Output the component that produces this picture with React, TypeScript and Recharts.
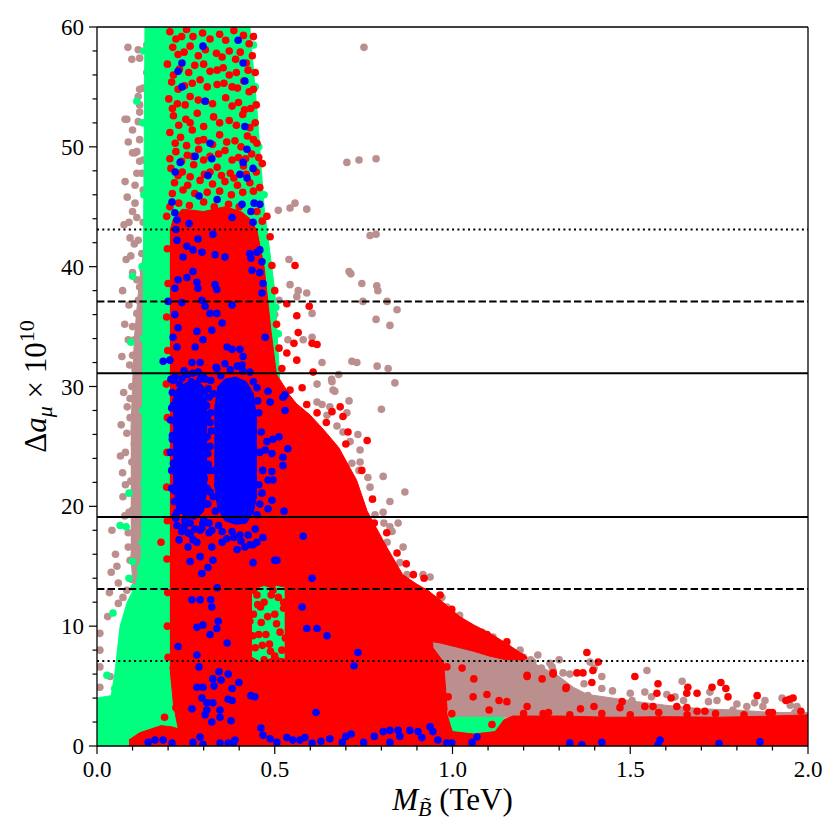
import { ComposedChart, Scatter, Area, XAxis, YAxis, ReferenceLine } from 'recharts';

const BROWN = '#bc8f8f';
const GREEN = '#00ff7f';
const RED = '#ff0000';
const BLUE = '#0000ff';
const FONT = '"Liberation Serif", "DejaVu Serif", serif';

const xTicks = [0, 0.1, 0.2, 0.3, 0.4, 0.5, 0.6, 0.7, 0.8, 0.9, 1, 1.1, 1.2, 1.3, 1.4, 1.5, 1.6, 1.7, 1.8, 1.9, 2];
const xMajor = [0, 0.5, 1, 1.5, 2];
const yTicks = [0, 2, 4, 6, 8, 10, 12, 14, 16, 18, 20, 22, 24, 26, 28, 30, 32, 34, 36, 38, 40, 42, 44, 46, 48, 50, 52, 54, 56, 58, 60];
const yMajor = [0, 10, 20, 30, 40, 50, 60];

// Delta a_mu bands: 1, 2, 3 sigma
const solidLevels = [19.1, 31.1];
const dashedLevels = [13.1, 37.1];
const dottedLevels = [7.1, 43.1];

// dense regions: [x, low, high]
const brownLeftFill = [[0.095, 16, 26], [0.105, 12, 34], [0.12, 9, 39], [0.13, 7, 41], [0.14, 7, 42]];
const brownRightFill = [
  [0.93, 7.5, 9.4], [0.96, 5, 9.0], [0.985, 2.3, 8.7], [1.0, 2.3, 8.6], [1.05, 2.3, 8.2], [1.1, 2.3, 7.9],
  [1.15, 2.4, 7.6], [1.2, 2.4, 7.3], [1.25, 2.4, 6.6], [1.3, 2.4, 5.8], [1.34, 2.4, 4.9], [1.38, 2.4, 4.3],
  [1.45, 2.4, 4.0], [1.52, 2.4, 3.7], [1.6, 2.4, 3.4], [1.7, 2.4, 3.1], [1.8, 2.4, 3.0], [1.9, 2.5, 2.8], [2.0, 2.5, 2.8],
];
const greenFill = [
  [0, 0, 4.0], [0.04, 0, 4.2], [0.05, 0, 6.0], [0.065, 0, 10], [0.085, 0, 12], [0.11, 0, 13.5], [0.125, 0, 16],
  [0.135, 0, 60], [0.43, 0, 60], [0.45, 0, 53], [0.47, 0, 45], [0.5, 0, 38], [0.515, 0, 30], [0.535, 0, 14], [0.545, 0, 0],
];
const greenPatch = [[0.99, 1.0, 2.3], [1.0, 0.9, 2.4], [1.14, 0.9, 2.4], [1.15, 1.0, 2.2]];
const redBottomLeft = [[0.09, 0, 0.5], [0.12, 0, 1.1], [0.15, 0, 1.4], [0.18, 0, 1.7], [0.21, 0, 1.6], [0.245, 0, 1.3]];
const redBand = [
  [0.205, 6.6, 43], [0.215, 3.5, 44], [0.23, 1.2, 44.5], [0.24, 0, 44.8], [0.3, 0, 44.6], [0.36, 0, 45], [0.405, 0, 44.6],
  [0.43, 0, 44], [0.436, 0, 43.7],
];
const redUpper = [[0.43, 13, 44], [0.45, 13.2, 43], [0.47, 13.4, 40], [0.49, 13.2, 34.5], [0.505, 13.4, 31], [0.54, 13.2, 29.4]];
const redLower = [[0.43, 0, 7.5], [0.46, 0, 7.0], [0.5, 0, 7.4], [0.54, 0, 7.2]];
const redFan = [
  [0.528, 0, 29.8], [0.56, 0, 28.6], [0.6, 0, 27.6], [0.64, 0, 26.3], [0.68, 0, 24.9], [0.73, 0, 22.2], [0.76, 0, 19.6],
  [0.815, 0, 16.6], [0.86, 0, 14.3], [0.9, 0, 13.5], [0.935, 0, 12.9], [0.945, 0, 8.2], [0.975, 0, 7.0], [0.985, 0, 3.0],
];
const redLip = [[0.925, 8.8, 13.1], [0.965, 8.6, 12.2], [1.02, 8.2, 10.8], [1.06, 7.9, 10.1], [1.105, 7.5, 9.4], [1.15, 7.2, 8.6], [1.19, 7.2, 7.8], [1.21, 7.3, 7.4]];
const redStrip = [
  [0.975, 0, 3.0], [0.985, 0, 2.6], [0.995, 0, 1.6], [1.0, 0, 1.2], [1.06, 0, 1.0], [1.12, 0, 1.2], [1.145, 0, 2.2], [1.17, 0, 2.5],
  [1.3, 0, 2.5], [1.45, 0, 2.4], [1.6, 0, 2.45], [1.75, 0, 2.4], [1.9, 0, 2.5], [2.0, 0, 2.6],
];
const blueCore = [[0.33, 22, 28], [0.34, 19.8, 30], [0.36, 18.8, 30.6], [0.39, 18.5, 30.8], [0.42, 18.6, 30.4], [0.44, 19.5, 29.4], [0.45, 21, 27]];
const blueLeft = [[0.214, 22, 28], [0.225, 19.8, 29.8], [0.25, 19, 30.3], [0.28, 19, 30.5], [0.3, 19.6, 30], [0.31, 21.5, 28.5]];

// single points: [x, y]
const brownDots = [
  [0.087, 58.3], [0.116, 58.1], [0.098, 57.3], [0.12, 57.4], [0.14, 58.5], [0.13, 54.9], [0.116, 54.2], [0.12, 53.5], [0.12, 52.9],
  [0.079, 52.3], [0.1, 51.4], [0.088, 50.4], [0.112, 49.6], [0.1, 49.5], [0.12, 48.8], [0.079, 47.1], [0.126, 47.8], [0.14, 56.2],
  [0.12, 54.8], [0.084, 52.3], [0.116, 52.1], [0.12, 50.6], [0.107, 49.5], [0.13, 48.9], [0.112, 47.8], [0.107, 46.8], [0.13, 46.4],
  [0.107, 45.3], [0.1, 44.6], [0.13, 43.7], [0.093, 42.4], [0.116, 42.2], [0.126, 41.1], [0.13, 39.7], [0.1, 39.5], [0.112, 38.9],
  [0.12, 38.3], [0.116, 37.2], [0.112, 36.1], [0.13, 35.6], [0.1, 35], [0.12, 34.5], [0.088, 33.9], [0.116, 33.3], [0.1, 32.6],
  [0.12, 32.2], [0.107, 31.4], [0.12, 30.8], [0.098, 30], [0.12, 29.7], [0.093, 29], [0.116, 28.6],
  [0.093, 27.4], [0.084, 26.1], [0.12, 26.2], [0.112, 24.7], [0.098, 23.7], [0.12, 23.3], [0.112, 22.5], [0.12, 21.6], [0.073, 20.8],
  [0.112, 20.5], [0.1, 19.7], [0.042, 18], [0.088, 17.8], [0.116, 17.9], [0.088, 16.6], [0.112, 16.1], [0.093, 15.5], [0.116, 14.7],
  [0.098, 13.9], [0.084, 13], [0.12, 12.8], [0.073, 12.4], [0.008, 9.4], [0.008, 8], [0.008, 6.6], [0.008, 4.9], [0.06, 11.9],
  [0.093, 11.4], [0.084, 9.9], [0.1, 8.6], [0.079, 7.4], [0.1, 5.3], [0.037, 5.8], [0.04, 14.5], [0.052, 16.0], [0.035, 12.8],
  [0.056, 15.0], [0.03, 10.8], [0.06, 13.6], [0.078, 19.2], [0.072, 22.8], [0.08, 24.5],
  [0.068, 26.8], [0.075, 29.5], [0.07, 32.5], [0.078, 35.2], [0.072, 38.0], [0.082, 40.6], [0.076, 43.5], [0.085, 45.8],
  [0.066, 24.2], [0.08, 21.8], [0.09, 36.8], [0.092, 31.8], [0.085, 28.3], [0.09, 19.5], [0.095, 22.1], [0.105, 25.2],
  [0.108, 27.9], [0.105, 33.9], [0.09, 43.7], [0.095, 40.9], [0.112, 44.1], [0.105, 41.9],
  [0.703, 48.7], [0.737, 48.9], [0.785, 49], [0.751, 58.3], [0.51, 44.7], [0.543, 44.9], [0.557, 45.3], [0.59, 44.8], [0.768, 42.6],
  [0.785, 42.7], [0.54, 40.6], [0.709, 39.6], [0.714, 39.4], [0.543, 38.5], [0.566, 38], [0.59, 37.8], [0.745, 38.6], [0.787, 38.4],
  [0.79, 38], [0.512, 37.2], [0.562, 37.5], [0.605, 36.1], [0.748, 37.1], [0.816, 37.1], [0.844, 36.4], [0.785, 35.6], [0.824, 35.1],
  [0.5, 36], [0.537, 33.9], [0.58, 33.9], [0.605, 34.1], [0.633, 32], [0.717, 32.1], [0.731, 32], [0.788, 31.7], [0.819, 31.5],
  [0.838, 30.3], [0.68, 31], [0.66, 30.6], [0.664, 29.7], [0.709, 28.8], [0.8, 28.1], [0.619, 28.7], [0.633, 28.5], [0.655, 28.3],
  [0.647, 27.6], [0.675, 26.7], [0.692, 26.2], [0.712, 25.4], [0.734, 26], [0.74, 24.7], [0.768, 21.6], [0.805, 19.5], [0.824, 18.3],
  [0.866, 21.2], [0.824, 20.4], [0.847, 18.6], [0.861, 16.6], [0.805, 22.5], [0.762, 22.4], [0.737, 23], [0.717, 23.6],
  [0.619, 30.2], [0.661, 30.4], [0.669, 29.6], [0.703, 27.8], [0.74, 23.7], [0.782, 19.3], [0.807, 18.6], [0.83, 17.9], [0.816, 17],
  [0.852, 15.3], [0.872, 14.3], [0.917, 14.3], [0.937, 14.1], [0.97, 12.4], [0.984, 11.6], [1.02, 10.9], [1.05, 9.9], [1.083, 9.5],
  [1.114, 9.1], [1.153, 8.2], [1.17, 7.8], [1.2, 7.4], [1.226, 7], [1.25, 6.5], [1.283, 6.3], [1.31, 4.8], [1.34, 4.5], [1.274, 6.9],
  [1.36, 3.6], [1.19, 8.0], [1.24, 7.6], [1.3, 7.2], [0.9, 8.6], [0.915, 7.6],
  [1.22, 7.2], [1.28, 6.6], [1.33, 6.0], [1.37, 5.2], [1.45, 4.6], [1.5, 4.4], [1.56, 4.1], [1.65, 3.8], [1.72, 3.7], [1.8, 3.5],
  [1.85, 3.6], [1.95, 3.4],
  [1.547, 6.3], [1.541, 4.5], [1.646, 5.4], [1.724, 4.5], [1.744, 3.8], [1.828, 3.3], [1.879, 3.8], [1.873, 3.3], [1.927, 4],
  [1.969, 3.3], [1.42, 5.8], [1.42, 4.8], [1.311, 6.1], [1.381, 4.2], [1.443, 3.6], [1.505, 3.8], [1.603, 4.3], [1.626, 4.1],
  [1.789, 3.0], [1.963, 2.8], [1.519, 2.8], [1.387, 7.0], [1.398, 6.5],
];

const greenDots = [
  [0.112, 53.8], [0.1, 39.2], [0.095, 33.7], [0.09, 21.1], [0.082, 18.3], [0.1, 15.4], [0.09, 14], [0.045, 11.1], [0.073, 9.4],
  [0.079, 7.8], [0.028, 5.9], [0.05, 4.8], [0.065, 18.4], [0.51, 34.4], [0.497, 33], [0.503, 36.6], [0.485, 39], [0.47, 46],
  [0.455, 50], [0.445, 55], [0.44, 58.5], [0.131, 58], [0.128, 52], [0.132, 46], [0.127, 40], [0.131, 34], [0.129, 28],
  [0.133, 22], [0.128, 17], [0.122, 14.8], [0.104, 13.2], [0.478, 32.6],
];

const redDots = [
  [0.205, 59.6], [0.238, 59.2], [0.252, 59.8], [0.297, 59.5], [0.318, 59.0], [0.385, 59.7], [0.412, 59.3], [0.428, 58.6],
  [0.213, 58.3], [0.228, 57.7], [0.262, 58.4], [0.305, 58.1], [0.336, 57.8], [0.372, 58.0], [0.403, 57.9], [0.437, 57.6],
  [0.198, 56.9], [0.232, 56.5], [0.275, 56.8], [0.318, 56.3], [0.355, 56.6], [0.392, 56.2], [0.425, 56.4],
  [0.21, 55.4], [0.246, 55.1], [0.29, 55.6], [0.338, 55.2], [0.38, 55.0], [0.413, 55.5], [0.44, 54.8],
  [0.202, 54.0], [0.226, 53.6], [0.262, 54.2], [0.305, 53.8], [0.362, 54.1], [0.398, 53.7], [0.432, 53.2],
  [0.215, 52.6], [0.25, 52.3], [0.282, 52.8], [0.328, 52.5], [0.372, 52.2], [0.41, 52.7], [0.445, 52.0],
  [0.205, 51.2], [0.235, 50.8], [0.268, 51.4], [0.3, 50.6], [0.345, 51.0], [0.388, 50.5], [0.423, 50.9], [0.45, 50.3],
  [0.222, 49.6], [0.254, 49.3], [0.286, 49.8], [0.318, 49.2], [0.36, 49.7], [0.398, 49.1], [0.435, 49.4],
  [0.208, 48.2], [0.24, 47.9], [0.272, 48.5], [0.302, 47.7], [0.338, 48.3], [0.375, 47.8], [0.412, 48.4], [0.448, 47.9], [0.465, 48.6],
  [0.218, 47.0], [0.255, 46.8], [0.29, 47.2], [0.325, 46.9], [0.36, 47.1], [0.395, 46.8], [0.43, 47.0], [0.458, 46.6],
  [0.222, 59.0], [0.27, 59.2], [0.345, 59.4], [0.362, 58.9], [0.44, 59.2],
  [0.245, 57.9], [0.285, 57.6], [0.352, 57.5], [0.39, 57.3], [0.42, 57.0],
  [0.215, 56.0], [0.258, 56.2], [0.3, 56.9], [0.338, 56.4], [0.372, 56.0], [0.445, 56.2],
  [0.228, 54.8], [0.268, 55.3], [0.31, 55.0], [0.357, 55.3], [0.395, 54.9], [0.428, 54.6],
  [0.212, 53.2], [0.248, 53.5], [0.285, 53.9], [0.325, 53.6], [0.38, 53.4], [0.415, 53.1], [0.448, 53.5],
  [0.23, 51.8], [0.262, 52.0], [0.3, 51.7], [0.345, 52.0], [0.392, 51.8], [0.43, 51.6],
  [0.22, 50.3], [0.252, 50.1], [0.285, 50.5], [0.325, 50.2], [0.365, 50.4], [0.405, 50.0], [0.44, 50.6],
  [0.205, 49.0], [0.238, 48.8], [0.27, 49.2], [0.3, 48.9], [0.342, 49.4], [0.38, 48.9], [0.418, 49.0], [0.455, 49.1],
  [0.228, 47.6], [0.262, 47.5], [0.318, 47.9], [0.35, 47.6], [0.385, 47.4], [0.42, 47.7], [0.44, 46.3],
  [0.212, 46.1], [0.242, 46.4], [0.275, 46.1], [0.31, 46.2], [0.345, 46.3], [0.378, 46.0], [0.41, 46.2],
  [0.205, 45.0], [0.23, 45.3], [0.26, 45.1], [0.3, 45.4], [0.33, 45.0], [0.37, 45.2], [0.4, 45.0], [0.45, 44.6], [0.465, 43.8],
  [0.196, 44.2], [0.198, 41.5], [0.2, 38.6], [0.196, 35.8], [0.199, 33], [0.195, 30.2], [0.198, 27.4], [0.197, 24.5], [0.196, 21.6],
  [0.198, 18.8], [0.18, 17.0], [0.197, 15.6], [0.199, 12.8], [0.198, 10.0], [0.2, 7.4], [0.222, 3.2], [0.19, 2.4],
  [0.478, 44.2], [0.487, 42.5], [0.492, 40.1], [0.5, 38.0], [0.505, 35.2], [0.512, 33.2], [0.52, 31.5],
  [0.557, 40.1], [0.534, 36.9], [0.597, 36.7], [0.562, 35.9], [0.566, 34.5], [0.554, 33.6], [0.534, 32.8], [0.605, 33.6],
  [0.619, 33.5], [0.562, 32.2], [0.608, 31.2], [0.543, 29.7], [0.577, 29.9], [0.59, 28.5], [0.619, 27.8], [0.661, 27.9],
  [0.684, 28.3], [0.692, 27.5], [0.706, 26.2], [0.76, 25.5], [0.726, 21.6], [0.78, 18.6], [0.844, 16.1], [0.89, 14.3],
  [0.965, 12.6], [0.998, 11.4], [1.097, 9.3], [1.153, 8.7], [1.195, 7.4], [1.21, 5.9], [1.283, 6.1],
  [0.645, 27.0], [0.7, 25.2], [0.745, 23.0], [0.775, 20.6], [0.815, 17.8], [0.87, 15.2], [0.92, 14.0],
  [0.909, 6.9], [0.984, 6.6], [0.962, 5.5], [0.988, 4.1], [0.998, 2.7], [1.058, 4.1], [1.097, 4.3], [1.103, 3.0], [1.131, 3.8],
  [1.153, 3.7], [1.21, 5.8], [1.252, 5.6], [1.283, 6.0], [1.32, 4.9], [1.21, 3.3], [1.255, 2.7], [1.35, 6.1], [1.111, 1.8],
  [1.027, 6.5], [1.06, 5.6], [0.94, 4.5], [0.95, 3.3],
  [1.378, 7.8], [1.41, 7.0], [1.367, 6.1], [1.395, 6.3], [1.392, 5.3], [1.319, 4.8], [1.398, 3.3], [1.36, 3.1], [1.513, 5.8],
  [1.578, 5.2], [1.575, 4.4], [1.662, 4.9], [1.659, 4.4], [1.688, 4.4], [1.73, 4.9], [1.755, 5.3], [1.769, 4.8], [1.775, 4.1],
  [1.615, 4.0], [1.477, 3.7], [1.471, 3.2], [1.541, 3.3], [1.564, 3.3], [1.631, 3.3], [1.659, 3.2], [1.688, 2.9], [1.71, 2.9],
  [1.857, 4.2], [1.89, 2.8], [1.938, 3.8], [1.958, 4.0], [1.948, 3.9],
  [1.2, 2.7], [1.27, 2.8], [1.33, 2.6], [1.42, 2.7], [1.5, 2.6], [1.58, 2.8], [1.66, 2.6], [1.74, 2.7], [1.82, 2.6], [1.9, 2.8], [1.98, 2.9],
  [0.415, 12.2], [0.43, 10.4], [0.445, 8.2], [0.46, 11.6], [0.475, 9.3], [0.49, 12.6], [0.505, 10.2], [0.52, 8.0], [0.44, 13.0],
  [0.415, 8.8], [0.47, 7.2], [0.525, 12.0], [0.5, 7.5],
  [0.44, 11], [0.455, 9.3], [0.47, 12], [0.485, 8.5], [0.5, 11], [0.515, 9.5], [0.45, 12.6], [0.495, 13], [0.525, 11.5], [0.462, 10.3],
  [0.438, 9.2], [0.452, 11.8], [0.48, 10.8], [0.51, 12.4], [0.53, 9.0], [0.488, 7.9], [0.465, 8.4],
];

const blueDots = [
  [0.397, 58.9], [0.298, 58.4], [0.239, 57], [0.228, 56.3], [0.411, 57], [0.416, 55.5], [0.239, 55], [0.304, 53.8], [0.416, 51.7],
  [0.318, 50.3], [0.422, 49.8], [0.276, 49.2], [0.323, 49], [0.234, 48.7], [0.411, 48.7], [0.22, 47.9], [0.312, 47.6], [0.402, 47.7],
  [0.422, 47.4], [0.439, 48.2], [0.287, 45.9], [0.338, 45.6], [0.38, 44.1], [0.408, 45.2], [0.442, 45.3], [0.433, 44.6], [0.458, 45.2],
  [0.439, 43.7], [0.211, 45.4], [0.219, 44.5], [0.225, 43.9], [0.259, 43.6], [0.222, 43.1], [0.326, 42.7], [0.225, 42.2], [0.284, 42.3],
  [0.253, 41.7], [0.27, 41.4], [0.332, 41], [0.36, 40.8], [0.433, 40.7], [0.458, 41.4], [0.464, 40.4], [0.242, 40.8], [0.295, 41.2],
  [0.43, 41.1], [0.45, 41.2], [0.436, 39.7], [0.458, 39.5], [0.27, 39.6], [0.253, 39.1], [0.228, 38.9], [0.281, 38.7], [0.332, 38.5],
  [0.219, 38.2], [0.284, 38.2], [0.337, 38.1], [0.467, 38.6], [0.464, 37.8], [0.2, 37.1], [0.239, 37], [0.295, 37.2], [0.304, 36.7],
  [0.318, 36.1], [0.219, 36], [0.337, 36.1], [0.352, 35.3], [0.228, 34.9], [0.281, 34.6], [0.323, 34.7], [0.38, 36.8], [0.473, 34.1],
  [0.214, 34.1], [0.298, 33.9], [0.225, 33.3], [0.276, 33.3], [0.366, 33.3], [0.38, 33.1], [0.402, 33.1], [0.411, 32.5], [0.408, 31.8],
  [0.205, 32.2], [0.186, 32.1], [0.267, 32], [0.29, 32], [0.337, 31.5],
  [0.45, 29.9], [0.481, 29.6], [0.529, 29.3], [0.487, 28.7], [0.523, 29.1], [0.529, 28], [0.478, 25.4], [0.495, 25.6], [0.512, 25.8],
  [0.473, 24.7], [0.492, 24.4], [0.537, 24.8], [0.523, 24.1], [0.523, 23.4], [0.492, 22.9], [0.481, 22.2], [0.495, 22.2], [0.464, 21.1],
  [0.492, 20.5], [0.481, 19.8], [0.526, 19.6], [0.58, 17.5], [0.506, 15.5], [0.605, 14], [0.577, 11.6], [0.59, 9.8], [0.619, 9.8],
  [0.647, 9.2], [0.734, 7.8], [0.723, 6.7],
  [0.32, 30.5], [0.335, 31.6], [0.36, 31.9], [0.395, 31.7], [0.43, 31.2], [0.452, 28.8], [0.462, 26.2], [0.466, 23], [0.458, 20.2],
  [0.445, 18.1], [0.405, 17.1], [0.365, 17.3], [0.342, 18.4], [0.327, 20.8], [0.318, 25], [0.32, 27.8],
  [0.328, 29.4], [0.348, 30.9], [0.375, 31.4], [0.41, 31.3], [0.44, 30.4], [0.455, 27.8], [0.458, 24.5], [0.455, 21.8], [0.45, 19.3],
  [0.425, 17.6], [0.385, 17.4], [0.352, 17.9], [0.333, 19.6], [0.325, 23], [0.322, 26.3],
  [0.212, 29.5], [0.22, 30.8], [0.245, 31.3], [0.27, 31.1], [0.298, 30.9], [0.313, 29.8], [0.318, 27], [0.316, 23], [0.312, 20.2],
  [0.3, 18.6], [0.275, 18.1], [0.245, 18.3], [0.22, 19.2], [0.21, 21.5], [0.206, 24.5], [0.207, 27.2],
  [0.215, 30.5], [0.24, 30.7], [0.265, 30.4], [0.29, 30.6],
  [0.225, 29.3], [0.25, 29.5], [0.277, 29.2], [0.301, 29.4], [0.315, 29.1],
  [0.21, 28.2], [0.235, 28.0], [0.262, 28.3], [0.287, 28.1], [0.308, 28.4],
  [0.222, 27.0], [0.248, 26.8], [0.272, 27.2], [0.298, 26.9],
  [0.212, 25.9], [0.237, 26.1], [0.26, 25.7], [0.284, 26.0], [0.31, 25.8],
  [0.226, 24.7], [0.25, 24.5], [0.275, 24.9], [0.3, 24.6],
  [0.215, 23.6], [0.24, 23.8], [0.265, 23.4], [0.29, 23.7], [0.313, 23.5],
  [0.228, 22.4], [0.253, 22.2], [0.278, 22.6], [0.302, 22.3],
  [0.218, 21.3], [0.243, 21.5], [0.268, 21.1], [0.293, 21.4], [0.318, 21.2],
  [0.232, 20.1], [0.257, 20.3], [0.282, 19.9], [0.306, 20.2],
  [0.222, 19.0], [0.247, 18.8], [0.272, 19.2], [0.3, 18.9],
  [0.238, 17.9], [0.262, 17.7], [0.29, 18.0], [0.315, 17.8],
  [0.208, 30.6], [0.215, 28.4], [0.212, 25.6], [0.21, 23], [0.218, 20.4], [0.225, 18.4], [0.231, 17.2], [0.256, 16.6], [0.281, 17],
  [0.262, 18.6], [0.295, 18.2], [0.315, 18.6], [0.31, 21.5], [0.312, 24.4], [0.31, 27.5], [0.305, 30.6], [0.285, 31.2], [0.255, 31.0],
  [0.232, 30.2], [0.222, 28.8], [0.248, 19.6], [0.256, 17.8], [0.298, 18.6], [0.323, 18], [0.323, 16.6], [0.352, 17], [0.38, 17.9],
  [0.402, 17.6], [0.43, 16.8], [0.45, 17], [0.27, 17.2], [0.225, 19.5],
  [0.262, 15.4], [0.29, 15.8], [0.326, 15.5], [0.312, 14.9], [0.295, 14.4], [0.338, 13.2], [0.394, 16.4], [0.416, 16.6], [0.439, 16.8],
  [0.439, 15.3], [0.5, 15.5], [0.467, 17.4], [0.267, 12.2], [0.29, 12.2], [0.32, 12.2], [0.323, 11.6], [0.341, 10.4], [0.281, 9.9],
  [0.298, 10.1], [0.318, 9.3], [0.337, 9.8], [0.366, 8.6], [0.228, 8.3], [0.281, 7.6], [0.287, 6.6], [0.343, 6.2], [0.369, 6],
  [0.326, 5.6], [0.349, 5.5], [0.399, 5.3], [0.281, 4.9], [0.298, 4.9], [0.329, 5], [0.38, 4.8], [0.433, 4.2], [0.444, 4.1],
  [0.295, 4], [0.369, 3.9], [0.38, 3.8], [0.309, 3.6], [0.326, 3.6], [0.346, 3], [0.309, 3], [0.267, 3.1], [0.304, 2.6], [0.323, 2],
  [0.346, 2.4], [0.377, 2.1],
  [0.144, 0.3], [0.163, 0.5], [0.186, 0.5], [0.211, 0.25], [0.27, 0.3], [0.29, 0.75], [0.298, 0.15], [0.346, 0.25], [0.369, 0.25],
  [0.383, 0.2], [0.388, 0.5], [0.461, 1.5], [0.467, 0.9], [0.487, 0.6], [0.506, 0.3], [0.534, 0.7], [0.551, 0.5], [0.571, 0.5],
  [0.585, 0.7], [0.605, 0.25], [0.616, 2.8], [0.63, 0.4], [0.655, 0.6], [0.69, 0.3], [0.715, 1.0], [0.75, 0.3], [0.78, 0.8],
  [0.7, 0.8], [0.805, 1.2], [0.824, 1.3], [0.847, 1.3], [0.852, 0.8], [0.824, 0.3], [0.88, 1.3], [0.903, 1.2], [0.914, 0.7],
  [0.937, 1.6], [0.945, 1.2], [0.959, 0.5], [0.984, 0.25], [0.998, 0.25], [1.055, 0.3], [1.069, 0.75], [1.33, 0.25], [1.364, 0.1],
  [1.42, 0.3], [1.584, 0.5], [1.578, 0.1], [1.75, 0.2], [1.865, 0.35],
];

const toRange = (rows: number[][]) => rows.map(([x, lo, hi]) => ({ x, range: [lo, hi] }));
const toPoints = (rows: number[][]) => rows.map(([x, y]) => ({ x, y }));

const fillArea = (name: string, rows: number[][], color: string, z: number) => (
  <Area
    key={name}
    data={toRange(rows)}
    dataKey="range"
    type="linear"
    stroke={color}
    strokeWidth={1}
    fill={color}
    fillOpacity={1}
    dot={false}
    activeDot={false}
    isAnimationActive={false}
    zIndex={z}
  />
);

const dotSeries = (name: string, rows: number[][], color: string, z: number) => (
  <Scatter
    key={name}
    data={toPoints(rows)}
    dataKey="y"
    isAnimationActive={false}
    zIndex={z}
    shape={(p: any) => <circle cx={p.cx} cy={p.cy} r={3.8} fill={color} />}
  />
);

const XTick = ({ x, y, payload }: any) => {
  const major = xMajor.includes(payload.value);
  return (
    <g>
      <line x1={x} x2={x} y1={y} y2={y + (major ? 8 : 4.5)} stroke="#000" strokeWidth={1.2} />
      {major && (
        <text x={x} y={y + 31} textAnchor="middle" fontSize={23} fontFamily={FONT} fill="#000">
          {payload.value.toFixed(1)}
        </text>
      )}
    </g>
  );
};

const YTick = ({ x, y, payload }: any) => {
  const major = yMajor.includes(payload.value);
  return (
    <g>
      <line x1={x} x2={x - (major ? 8 : 4.5)} y1={y} y2={y} stroke="#000" strokeWidth={1.2} />
      {major && (
        <text x={x - 13} y={y + 8} textAnchor="end" fontSize={23} fontFamily={FONT} fill="#000">
          {payload.value}
        </text>
      )}
    </g>
  );
};

const XLabel = ({ viewBox }: any) => (
  <text x={viewBox.x + viewBox.width / 2} y={viewBox.y + 64} textAnchor="middle" fontSize={31} fontFamily={FONT} fill="#000">
    <tspan fontStyle="italic">M</tspan>
    <tspan fontStyle="italic" fontSize={22} dy={6}>B&#771;</tspan>
    <tspan dy={-6}> (TeV)</tspan>
  </text>
);

const YLabel = ({ viewBox }: any) => (
  <text
    transform={`translate(${viewBox.x + 38}, ${viewBox.y + viewBox.height / 2}) rotate(-90)`}
    textAnchor="middle"
    fontSize={31}
    fontFamily={FONT}
    fill="#000"
  >
    <tspan>Δ</tspan>
    <tspan fontStyle="italic">a</tspan>
    <tspan fontStyle="italic" fontSize={22} dy={6}>μ</tspan>
    <tspan dy={-6}> × 10</tspan>
    <tspan fontSize={22} dy={-12}>10</tspan>
  </text>
);

const bandLine = (y: number, dash: string | undefined, key: string) => (
  <ReferenceLine key={key} y={y} stroke="#000" strokeWidth={2} strokeDasharray={dash} zIndex={900} />
);

export default function App() {
  return (
    <ComposedChart width={832} height={832} margin={{ top: 19, right: 32, bottom: 0, left: 0 }}>
      <XAxis
        dataKey="x"
        type="number"
        domain={[0, 2]}
        ticks={xTicks}
        interval={0}
        allowDataOverflow
        tickLine={false}
        tickSize={0}
        tickMargin={0}
        tick={<XTick />}
        axisLine={{ stroke: '#000', strokeWidth: 1.3 }}
        height={94}
        label={{ content: XLabel }}
      />
      <YAxis
        dataKey="y"
        type="number"
        domain={[0, 60]}
        ticks={yTicks}
        interval={0}
        allowDataOverflow
        tickLine={false}
        tickSize={0}
        tickMargin={0}
        tick={<YTick />}
        axisLine={{ stroke: '#000', strokeWidth: 1.3 }}
        width={89}
        label={{ content: YLabel }}
      />
      {fillArea('brownLeft', brownLeftFill, BROWN, 101)}
      {fillArea('brownRight', brownRightFill, BROWN, 101)}
      {dotSeries('brownDots', brownDots, BROWN, 102)}
      {fillArea('green', greenFill, GREEN, 103)}
      {fillArea('greenPatch', greenPatch, GREEN, 103)}
      {dotSeries('greenDots', greenDots, GREEN, 104)}
      {fillArea('redBottomLeft', redBottomLeft, RED, 105)}
      {fillArea('redBand', redBand, RED, 105)}
      {fillArea('redUpper', redUpper, RED, 105)}
      {fillArea('redLower', redLower, RED, 105)}
      {fillArea('redFan', redFan, RED, 105)}
      {fillArea('redLip', redLip, RED, 105)}
      {fillArea('redStrip', redStrip, RED, 105)}
      {dotSeries('redDots', redDots, RED, 106)}
      {fillArea('blueCore', blueCore, BLUE, 107)}
      {fillArea('blueLeft', blueLeft, BLUE, 107)}
      {dotSeries('blueDots', blueDots, BLUE, 108)}
      {solidLevels.map((v, i) => bandLine(v, undefined, `s${i}`))}
      {dashedLevels.map((v, i) => bandLine(v, '7.4 3.2', `d${i}`))}
      {dottedLevels.map((v, i) => bandLine(v, '2 3.3', `o${i}`))}
      <ReferenceLine y={60} stroke="#000" strokeWidth={1.3} zIndex={900} />
      <ReferenceLine x={2} stroke="#000" strokeWidth={1.3} zIndex={900} />
    </ComposedChart>
  );
}
